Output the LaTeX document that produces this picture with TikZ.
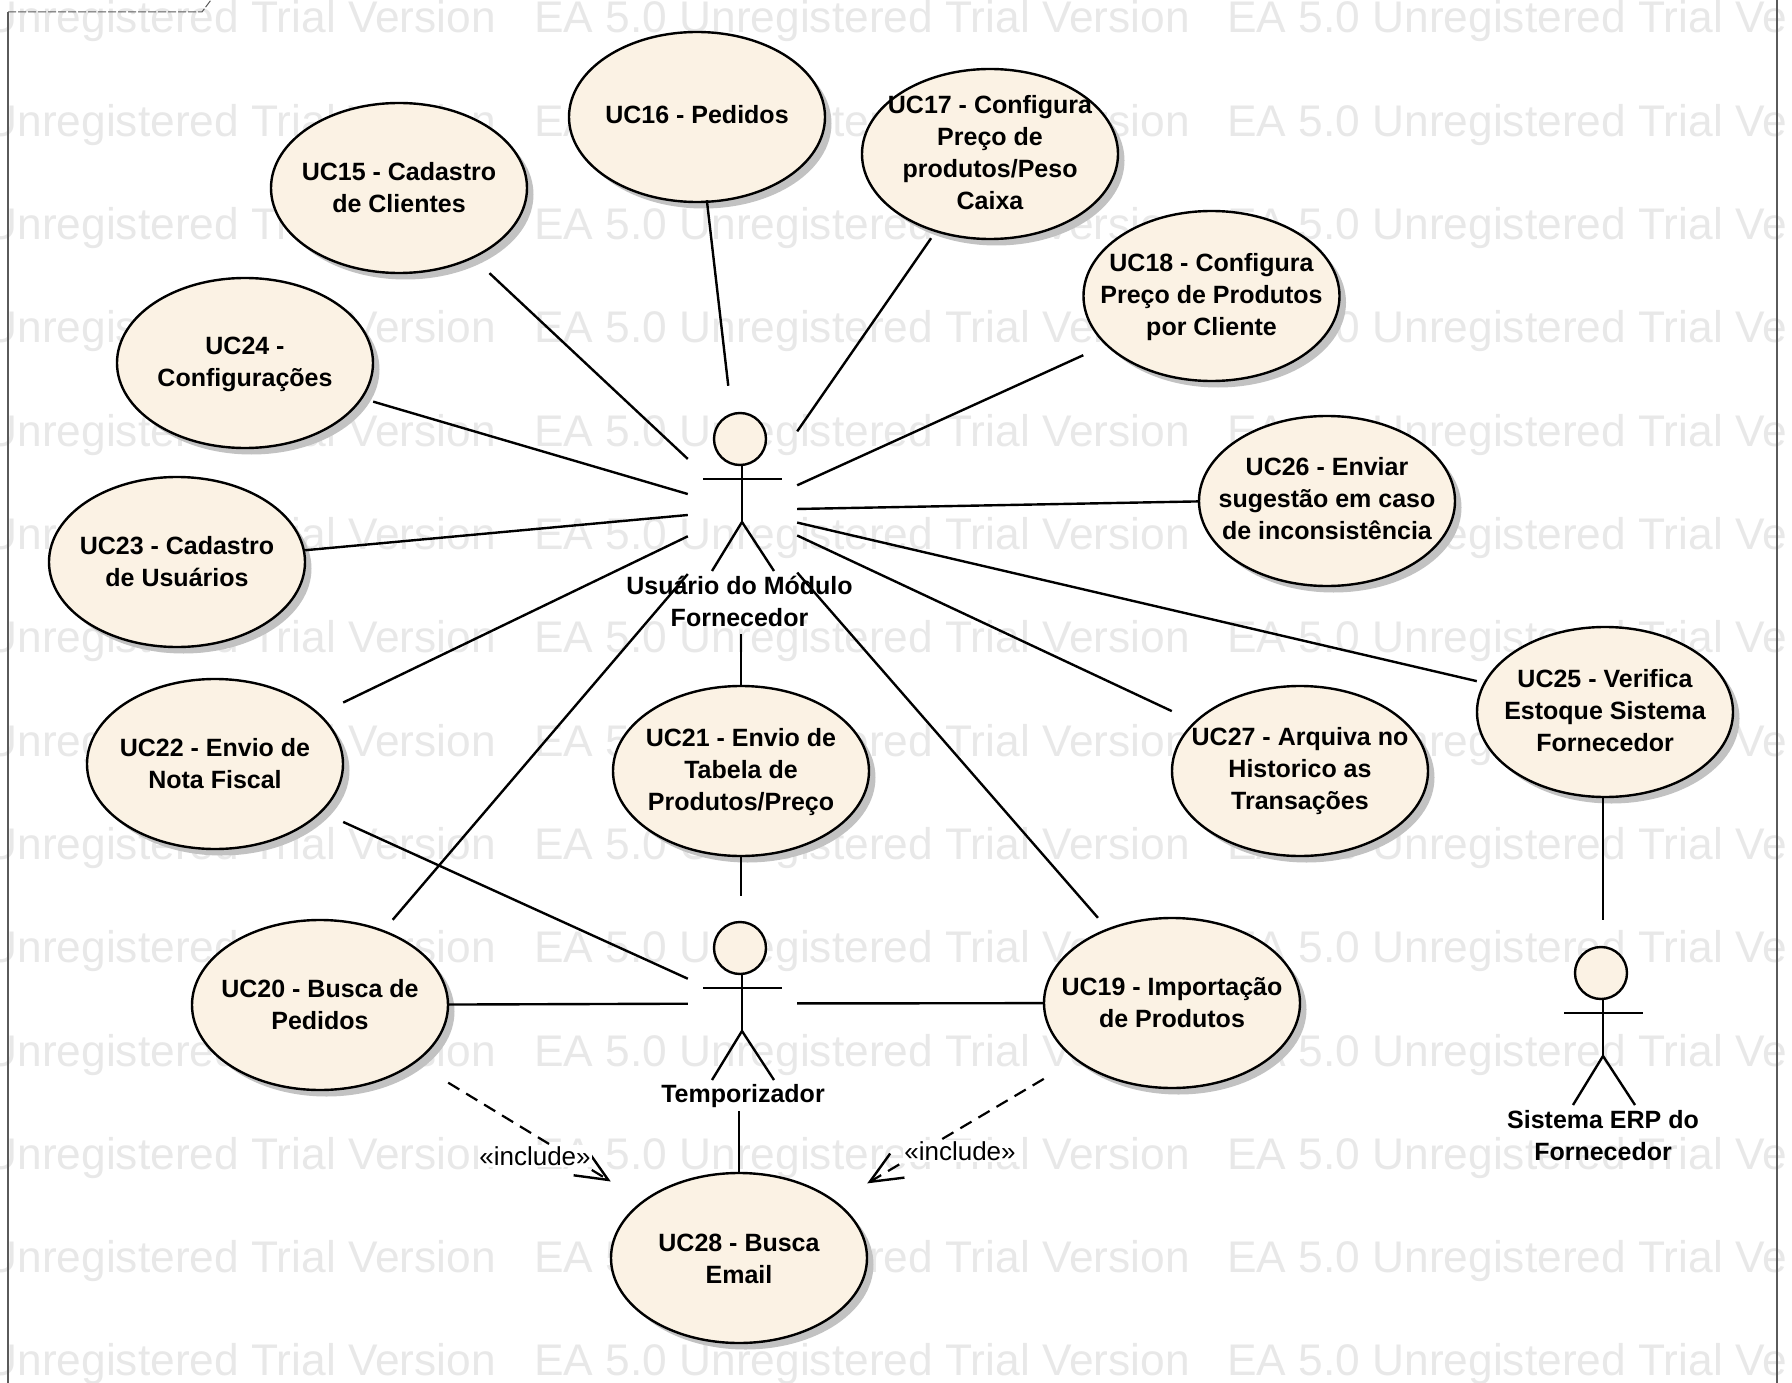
\documentclass[tikz,border=0pt]{standalone}
\usepackage{fontspec}
\setmainfont{Liberation Sans}
\usetikzlibrary{shapes.geometric,shadows,arrows.meta}

\definecolor{ucfill}{HTML}{FBF2E4}
\definecolor{ucshadow}{HTML}{C2C2C2}
\definecolor{wmgray}{HTML}{E8E8E8}
\definecolor{framegray}{HTML}{5A5A5A}

\tikzset{
    ucshape/.style={ellipse, draw=black, line width=2.4pt, fill=ucfill, minimum width=256pt, minimum height=170pt, inner sep=0pt,
        drop shadow={shadow xshift=6.5pt, shadow yshift=-6.5pt, fill=ucshadow, opacity=1}},
    ucbox/.style={rectangle, minimum width=256pt, minimum height=170pt, inner sep=0pt, align=center, font=\fontsize{25}{32}\selectfont\bfseries},
    actorbox/.style={rectangle, minimum width=109pt, inner sep=0pt},
    actorhead/.style={circle, draw=black, line width=2.4pt, fill=ucfill, minimum size=52pt, inner sep=0pt},
    actorline/.style={line width=2.4pt},
    actorlabel/.style={align=center, font=\fontsize{25}{32}\selectfont\bfseries},
    assoc/.style={line width=2.4pt},
    inclarrow/.style={line width=2.2pt, dashed, dash pattern=on 13pt off 8pt, -{Straight Barb[length=32pt,width=28pt,line width=2.4pt]}},
    incllabel/.style={fill=white, inner sep=1pt, font=\fontsize{26}{30}\selectfont},
    watermark/.style={anchor=base west, inner sep=0pt, text=wmgray, font=\fontsize{44.3}{50}\selectfont}
}

\begin{document}
\begin{tikzpicture}[x=1pt,y=-1pt]
        \useasboundingbox (0,0) rectangle (1792,1383);
        \clip (0,0) rectangle (1792,1383);

        % Watermark rows
        \begin{scope}
            \clip (0,0) rectangle (1785,1383);
            \foreach \r in {0,...,13} {
                \foreach \c in {-160,534,1227} {
                    \node[watermark] (wm\r\c) at (\c,{33+103.3*\r}) {EA 5.0 Unregistered Trial Version};
                }
            }
        \end{scope}

        % Frame
        \draw[framegray, line width=1.5pt] (8,12) -- (8,1383);
        \draw[framegray, line width=1.5pt] (1777,0) -- (1777,1383);
        \draw[framegray, line width=1pt, dash pattern=on 8pt off 2pt] (8,12) -- (202,12) -- (211,0);

        % Use cases, text moved by dy
        \foreach \n/\x/\y/\dy/\t in {
            15/399/188/0/{UC15 - Cadastro\\de Clientes},
            16/697/117/-2/{UC16 - Pedidos},
            17/990/154/-1/{UC17 - Configura\\Preço de\\produtos/Peso\\Caixa},
            18/1211.5/296/1/{UC18 - Configura\\Preço de Produtos\\por Cliente},
            19/1172/1003/0/{UC19 - Importação\\de Produtos},
            20/320/1005/0/{UC20 - Busca de\\Pedidos},
            21/741/771/1/{UC21 - Envio de\\Tabela de\\Produtos/Preço},
            22/215/764/0/{UC22 - Envio de\\Nota Fiscal},
            23/177/562/0/{UC23 - Cadastro\\de Usuários},
            24/245/363/1/{UC24 -\\Configurações},
            25/1605/712/-1/{UC25 - Verifica\\Estoque Sistema\\Fornecedor},
            26/1327/501/-2/{UC26 - Enviar\\sugestão em caso\\de inconsistência},
            27/1300/771/0/{UC27 - Arquiva no\\Historico as\\Transações},
            28/739/1258/1/{UC28 - Busca\\Email}} {
            \node[ucshape] (ell\n) at (\x,\y) {};
            \node[ucbox] (uc\n) at (\x,\y+\dy) {\t};
        }

        % Actors
        \foreach \n/\x/\y in {usuario/740/439, temporizador/740/948, erp/1601/973} {
            \node[actorhead] (\n head) at (\x,\y) {};
            \draw[actorline] (\x+2,\y+26) -- (\x+2,\y+83);
            \draw[actorline] (\x-37,\y+40) -- (\x+42,\y+40);
            \draw[actorline] (\x-28,\y+132) -- (\x+2,\y+83) -- (\x+34,\y+132);
        }
        \node[actorbox, minimum height=248pt] (usuario) at (742.5,510) {};
        \node[actorbox, minimum height=215pt] (temporizador) at (742.5,1003.5) {};
        \node[actorbox, minimum height=215pt] (erp) at (1603,1027.5) {};
        \node[actorlabel] (usuariolabel) at (739.5,601) {Usuário do Módulo\\Fornecedor};
        \node[actorlabel] (temporizadorlabel) at (743,1096) {Temporizador};
        \node[actorlabel] (erplabel) at (1603,1136) {Sistema ERP do\\Fornecedor};

        % Associations
        \foreach \a/\b in {uc15/usuario, uc16/usuario, uc17/usuario, uc18/usuario, uc19/usuario, uc20/usuario,
            uc22/usuario, uc23/usuario, uc24/usuario, uc25/usuario, uc26/usuario, uc27/usuario,
            uc19/temporizador, uc20/temporizador, uc22/temporizador} {
            \draw[assoc] (\a) -- (\b);
        }
        \draw[assoc] (ell21 |- usuario.south) -- (ell21 |- uc21.north);
        \draw[assoc] (ell21 |- uc21.south) -- (ell21 |- temporizador.north);
        \draw[assoc] (ell28 |- temporizador.south) -- (ell28 |- uc28.north);
        \draw[assoc] (erp |- uc25.south) -- (erp.north);

        % Include arrows
        \draw[inclarrow] (uc20) -- (uc28);
        \draw[inclarrow] (uc19) -- (uc28);
        \node[incllabel] (incl20) at (535,1156) {«include»};
        \node[incllabel] (incl19) at (960,1151) {«include»};
    \end{tikzpicture}
\end{document}
